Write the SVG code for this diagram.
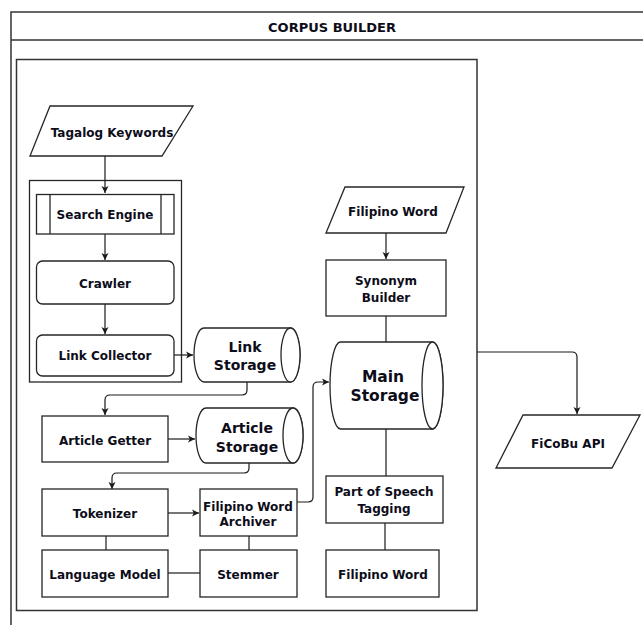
<svg xmlns="http://www.w3.org/2000/svg" width="643" height="625" viewBox="0 0 643 625">
  <defs>
    <marker id="arrow" markerWidth="8" markerHeight="8" refX="7" refY="4" orient="auto" markerUnits="userSpaceOnUse">
      <path d="M0,0.5 L7,4 L0,7.5 L1.8,4 Z" fill="#1a1a1a"/>
    </marker>
    <style>
      .shape { fill: #ffffff; stroke: #262626; stroke-width: 1.3; }
      .outline { fill: none; stroke: #262626; stroke-width: 1.3; }
      .frame { fill: none; stroke: #333333; stroke-width: 1.5; }
      .edge { fill: none; stroke: #1a1a1a; stroke-width: 1.2; }
      .lbl { font-family: "DejaVu Sans", Verdana, sans-serif; font-weight: bold; font-size: 12px; fill: #0d0d1a; text-anchor: middle; }
      .big { font-size: 14px; }
      .huge { font-size: 15.5px; }
      .title { font-size: 13px; }
    </style>
  </defs>

  <rect width="643" height="625" fill="#ffffff"/>

  <!-- swimlane -->
  <g id="pool">
    <rect class="frame" x="11" y="12" width="700" height="700"/>
    <line class="frame" x1="11" y1="40" x2="643" y2="40"/>
    <text class="lbl title" x="332" y="31.5">CORPUS BUILDER</text>
    <rect class="frame" x="16.5" y="59.5" width="460.5" height="551"/>
  </g>

  <!-- grouping box around the web collection steps -->
  <g id="crawler-group">
    <rect class="outline" x="29.5" y="180.5" width="152" height="201.5"/>
  </g>

  <!-- connectors -->
  <g id="connectors">
    <path class="edge" d="M105,156 V193" marker-end="url(#arrow)"/>
    <path class="edge" d="M105,234 V260" marker-end="url(#arrow)"/>
    <path class="edge" d="M105,304 V334" marker-end="url(#arrow)"/>
    <path class="edge" d="M174,355 H193" marker-end="url(#arrow)"/>
    <path class="edge" d="M247,382 V390 Q247,395 242,395 H110 Q105,395 105,400 V415" marker-end="url(#arrow)"/>
    <path class="edge" d="M168,439 H195" marker-end="url(#arrow)"/>
    <path class="edge" d="M249,463 V468 Q249,473 244,473 H117 Q112,473 112,478 V489" marker-end="url(#arrow)"/>
    <path class="edge" d="M168,513 H199" marker-end="url(#arrow)"/>
    <path class="edge" d="M297,502 H308 Q313,502 313,497 V387 Q313,382 318,382 H329" marker-end="url(#arrow)"/>
    <path class="edge" d="M106,536 V550"/>
    <path class="edge" d="M249,536 V550"/>
    <path class="edge" d="M168,573 H200"/>
    <path class="edge" d="M386,233 V259" marker-end="url(#arrow)"/>
    <path class="edge" d="M386,316 V342"/>
    <path class="edge" d="M386,429 V476"/>
    <path class="edge" d="M385,523 V550"/>
    <path class="edge" d="M477,352 H572 Q577,352 577,357 V414" marker-end="url(#arrow)"/>
  </g>

  <g id="tagalog-keywords">
    <path class="shape" d="M50,106 H193 L162,156 H30 Z"/>
    <text class="lbl" x="112" y="137">Tagalog Keywords</text>
  </g>

  <g id="search-engine">
    <rect class="shape" x="36.5" y="194.5" width="137.5" height="39.5"/>
    <line class="shape" x1="50" y1="194.5" x2="50" y2="234"/>
    <line class="shape" x1="161" y1="194.5" x2="161" y2="234"/>
    <text class="lbl" x="105" y="219">Search Engine</text>
  </g>

  <g id="crawler">
    <rect class="shape" x="36.5" y="261" width="137.5" height="43" rx="6"/>
    <text class="lbl" x="105" y="288">Crawler</text>
  </g>

  <g id="link-collector">
    <rect class="shape" x="36.5" y="335" width="137.5" height="41" rx="6"/>
    <text class="lbl" x="105" y="360">Link Collector</text>
  </g>

  <g id="link-storage">
    <path class="shape" d="M204,328 H290.5 A9.5,27 0 0 1 290.5,382 H204 A10,27 0 0 1 204,328 Z"/>
    <ellipse class="shape" cx="290.5" cy="355" rx="9.5" ry="27"/>
    <text class="lbl big" x="245" y="352">Link</text>
    <text class="lbl big" x="245" y="370">Storage</text>
  </g>

  <g id="article-getter">
    <rect class="shape" x="42" y="416" width="126" height="46"/>
    <text class="lbl" x="105" y="445">Article Getter</text>
  </g>

  <g id="article-storage">
    <path class="shape" d="M206,408 H293 A10,27.5 0 0 1 293,463 H206 A10,27.5 0 0 1 206,408 Z"/>
    <ellipse class="shape" cx="293" cy="435.5" rx="10" ry="27.5"/>
    <text class="lbl big" x="247" y="433">Article</text>
    <text class="lbl big" x="247" y="452">Storage</text>
  </g>

  <g id="tokenizer">
    <rect class="shape" x="42" y="489" width="126" height="47"/>
    <text class="lbl" x="105" y="518">Tokenizer</text>
  </g>

  <g id="filipino-word-archiver">
    <rect class="shape" x="200" y="489" width="97" height="47"/>
    <text class="lbl" x="248" y="511">Filipino Word</text>
    <text class="lbl" x="248" y="526">Archiver</text>
  </g>

  <g id="language-model">
    <rect class="shape" x="42" y="550" width="126" height="47"/>
    <text class="lbl" x="105" y="579">Language Model</text>
  </g>

  <g id="stemmer">
    <rect class="shape" x="200" y="550" width="97" height="47"/>
    <text class="lbl" x="248" y="579">Stemmer</text>
  </g>

  <g id="filipino-word-input">
    <path class="shape" d="M345,187 H464 L446,233 H326 Z"/>
    <text class="lbl" x="393" y="216">Filipino Word</text>
  </g>

  <g id="synonym-builder">
    <rect class="shape" x="326" y="260" width="120" height="56"/>
    <text class="lbl" x="386" y="285">Synonym</text>
    <text class="lbl" x="386" y="302">Builder</text>
  </g>

  <g id="main-storage">
    <path class="shape" d="M340.5,342 H432.5 A10.5,43.5 0 0 1 432.5,429 H340.5 A10.5,43.5 0 0 1 340.5,342 Z"/>
    <ellipse class="shape" cx="432.5" cy="385.5" rx="10.5" ry="43.5"/>
    <text class="lbl huge" x="383" y="382">Main</text>
    <text class="lbl huge" x="385" y="401">Storage</text>
  </g>

  <g id="part-of-speech-tagging">
    <rect class="shape" x="326" y="476" width="117" height="47"/>
    <text class="lbl" x="384" y="496">Part of Speech</text>
    <text class="lbl" x="384" y="513">Tagging</text>
  </g>

  <g id="filipino-word-output">
    <rect class="shape" x="326" y="550" width="113" height="47"/>
    <text class="lbl" x="383" y="579">Filipino Word</text>
  </g>

  <g id="ficobu-api">
    <path class="shape" d="M523,415 H640 L612,468 H496 Z"/>
    <text class="lbl" x="568" y="448">FiCoBu API</text>
  </g>
</svg>
